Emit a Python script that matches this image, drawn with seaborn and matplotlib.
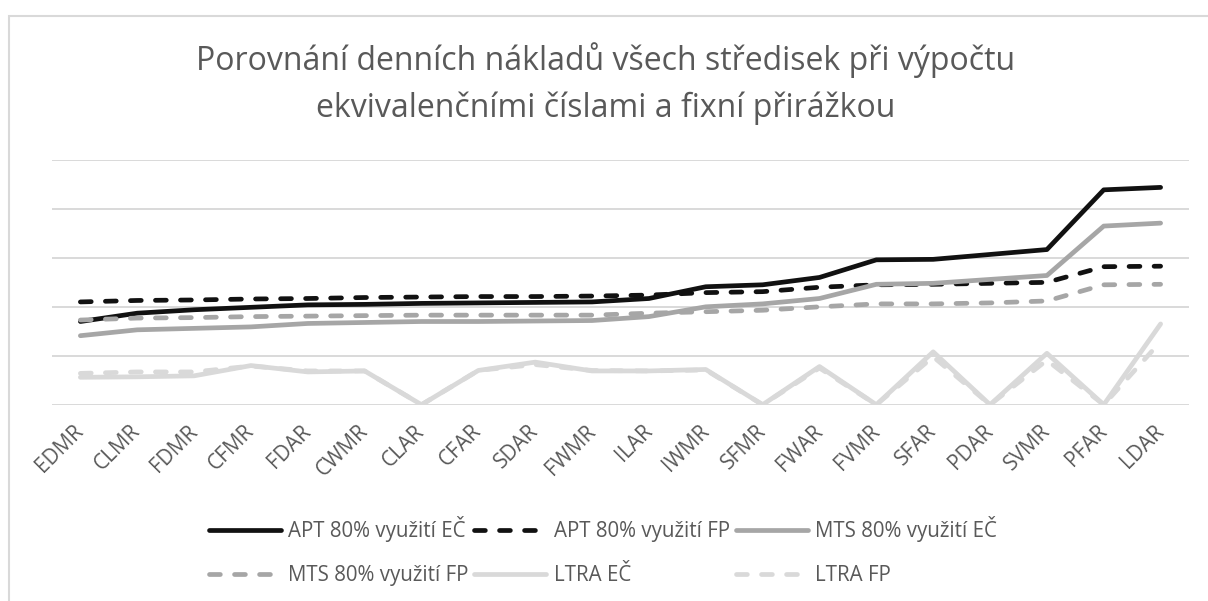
import matplotlib.pyplot as plt
import matplotlib.patches as mpatches
import seaborn as sns

# data (units: 100 = one grid step)
strediska = ['EDMR', 'CLMR', 'FDMR', 'CFMR', 'FDAR', 'CWMR', 'CLAR', 'CFAR', 'SDAR', 'FWMR',
             'ILAR', 'IWMR', 'SFMR', 'FWAR', 'FVMR', 'SFAR', 'PDAR', 'SVMR', 'PFAR', 'LDAR']

apt_ec = [170, 187, 194, 199, 204, 205, 207, 208, 209, 210,
          217, 241, 245, 260, 296, 297, 307, 317, 439, 444]
apt_fp = [210, 213, 214, 216, 217, 219, 220, 221, 221, 222,
          224, 229, 231, 240, 245, 246, 248, 250, 282, 283]
mts_ec = [141, 153, 156, 159, 166, 168, 170, 170, 171, 172,
          180, 200, 206, 217, 246, 248, 256, 264, 365, 371]
mts_fp = [173, 177, 178, 180, 181, 182, 183, 183, 183, 183,
          187, 190, 193, 200, 206, 206, 208, 212, 245, 246]
ltra_ec = [56, 57, 59, 80, 67, 69, 0, 70, 87, 69,
           69, 72, 0, 78, 0, 108, 0, 105, 0, 165]
ltra_fp = [64, 67, 67, 79, 69, 69, 0, 70, 82, 70,
           69, 71, 0, 75, 0, 98, 0, 91, 0, 129]

nazvy = ['APT 80% využití EČ', 'APT 80% využití FP', 'MTS 80% využití EČ',
         'MTS 80% využití FP', 'LTRA EČ', 'LTRA FP']
serie = [apt_ec, apt_fp, mts_ec, mts_fp, ltra_ec, ltra_fp]
barvy = ['#111111', '#111111', '#a6a6a6', '#a6a6a6', '#d9d9d9', '#d9d9d9']
carkovane = [False, True, False, True, False, True]

sns.set_style('white')
plt.rcParams['font.family'] = ['Open Sans', 'DejaVu Sans']

fig = plt.figure(figsize=(12.08, 6.01), dpi=100)
ax = fig.add_axes([0.043, 0.3266, 0.9413, 0.4072])

dash = (2.3, 3.0)
for nazev, hodnoty, barva, carky in zip(nazvy, serie, barvy, carkovane):
    sns.lineplot(x=strediska, y=hodnoty, ax=ax, color=barva, lw=3.4, label=nazev,
                 sort=False, solid_capstyle='round', dash_capstyle='round',
                 solid_joinstyle='round')
    if carky:
        ax.lines[-1].set_dashes(dash)

ax.set_xlim(-0.5, len(strediska) - 0.5)
ax.set_ylim(0, 500)
ax.set_yticks(range(0, 501, 100))
ax.set_yticklabels([])
ax.grid(axis='y', color='#d9d9d9', lw=1.4)
ax.set_axisbelow(True)
for s in ax.spines.values():
    s.set_visible(False)
ax.set_xlabel('')
ax.set_ylabel('')
ax.tick_params(axis='x', length=0, pad=17, labelsize=15, labelcolor='#595959')
ax.tick_params(axis='y', length=0)
plt.setp(ax.get_xticklabels(), rotation=45, ha='right', va='center', rotation_mode='anchor')

# legend in Excel row order
handles, labels = ax.get_legend_handles_labels()
ax.get_legend().remove()
poradi = [0, 3, 1, 4, 2, 5]
fig.legend([handles[i] for i in poradi], [labels[i] for i in poradi],
           loc='center', bbox_to_anchor=(0.499, 0.083), ncol=3, frameon=False,
           fontsize=14.8, labelcolor='#595959', handlelength=3.5, handletextpad=0.35,
           columnspacing=0.3, labelspacing=1.15)

fig.suptitle('Porovnání denních nákladů všech středisek při výpočtu\nekvivalenčními číslami a fixní přirážkou',
             x=0.5017, y=0.93, fontsize=23, color='#595959', linespacing=1.55, va='top')

# chart border
fig.patches.append(mpatches.Rectangle((9 / 1208, -0.1), 1.1, 1 - 16 / 601 + 0.1,
                                      transform=fig.transFigure, fill=False,
                                      edgecolor='#d9d9d9', lw=1.5))

fig.savefig('out.png', dpi=100)
